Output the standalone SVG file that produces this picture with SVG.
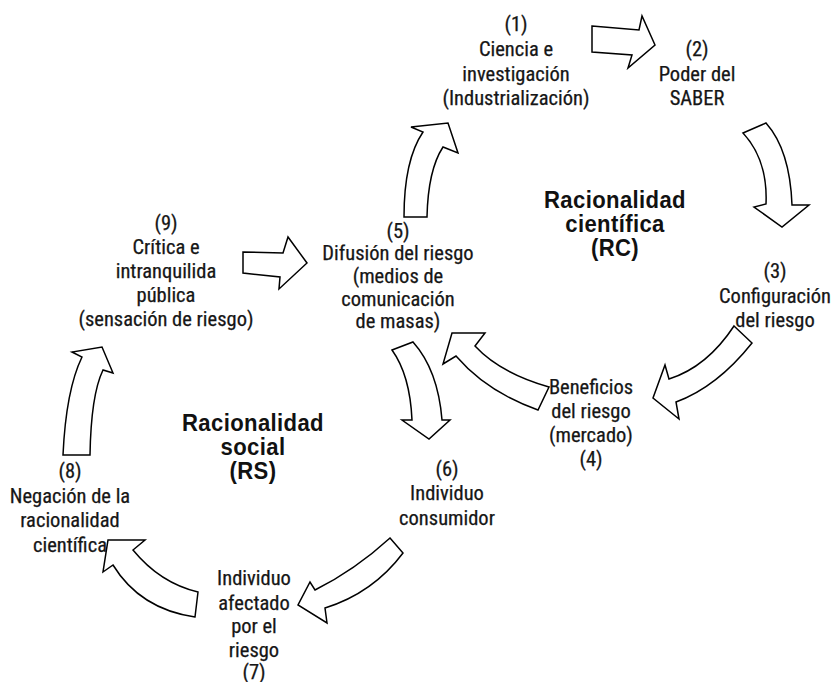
<svg xmlns="http://www.w3.org/2000/svg" width="838" height="682" viewBox="0 0 838 682">
  <style>
    .bg { fill: #ffffff; }
    .lbl { font-family: "Liberation Sans Narrow", "Roboto Condensed", "DejaVu Sans Condensed", sans-serif; font-size: 20.5px; fill: #161616; stroke: #161616; stroke-width: 0.25; text-anchor: middle; }
    .ttl { font-family: "Liberation Sans", Arial, sans-serif; font-size: 23px; font-weight: bold; letter-spacing: 0.4px; fill: #111111; text-anchor: middle; }
    .arw { fill: #ffffff; stroke: #000000; stroke-width: 1.5; stroke-linejoin: miter; }
  </style>
  <rect class="bg" x="0" y="0" width="838" height="682"/>

  <!-- block arrows linking the stages -->
  <g id="connectors">
    <!-- 1 -> 2 -->
    <path class="arw" d="M592,26 L639,30 L642,16 L655,45 L628,68 L632,55 L592,52 Z"/>
    <!-- 2 -> 3 -->
    <path class="arw" d="M743,133 L766,123 Q790,150 792,205 L809,205 L782,227 L754,207 L766,204 Q768,160 743,133 Z"/>
    <!-- 3 -> 4 -->
    <path class="arw" d="M734,326 L752,343 Q717,387 676,402 L679,419 L653,398 L665,365 L669,379 Q707,367 734,326 Z"/>
    <!-- 4 -> 5 -->
    <path class="arw" d="M452,333 L485,333 L475,346 Q500,373 549,387 L538,410 Q487,392 456,356 L443,364 Z"/>
    <!-- 5 -> 6 -->
    <path class="arw" d="M392,350 L413,342 Q438,370 442,420 L450,420 L429,439 L402,420 L412,420 Q410,375 392,350 Z"/>
    <!-- 5 -> 1 -->
    <path class="arw" d="M404,217 Q404,160 423,132 L411,127 L448,123 L458,153 L443,147 Q428,170 427,217 Z"/>
    <!-- 9 -> 5 -->
    <path class="arw" d="M243,252 L283,253 L288,237 L307,263 L279,289 L280,277 L243,273 Z"/>
    <!-- 8 -> 9 -->
    <path class="arw" d="M63,455 Q66,390 82,357 L72,352 L102,347 L113,373 L103,370 Q91,395 90,455 Z"/>
    <!-- 6 -> 7 -->
    <path class="arw" d="M390,538 L403,553 Q373,593 325,608 L327,623 L298,605 L310,582 L315,590 Q355,570 390,538 Z"/>
    <!-- 7 -> 8 -->
    <path class="arw" d="M198,592 L195,617 Q140,609 113,565 L103,572 L108,540 L145,540 L133,550 Q160,583 198,592 Z"/>
  </g>

  <g id="node1">
    <text class="lbl" x="516" y="31">(1)</text>
    <text class="lbl" x="516" y="56">Ciencia e</text>
    <text class="lbl" x="516" y="81">investigación</text>
    <text class="lbl" x="516" y="105">(Industrialización)</text>
  </g>
  <g id="node2">
    <text class="lbl" x="697" y="56">(2)</text>
    <text class="lbl" x="697" y="81">Poder del</text>
    <text class="lbl" x="697" y="105">SABER</text>
  </g>
  <g id="title-rc" transform="translate(615 0) scale(0.96 1)">
    <text class="ttl" x="0" y="208">Racionalidad</text>
    <text class="ttl" x="0" y="232">científica</text>
    <text class="ttl" x="0" y="256">(RC)</text>
  </g>
  <g id="node3">
    <text class="lbl" x="775" y="278">(3)</text>
    <text class="lbl" x="775" y="303">Configuración</text>
    <text class="lbl" x="775" y="327">del riesgo</text>
  </g>
  <g id="node4">
    <text class="lbl" x="591" y="394">Beneficios</text>
    <text class="lbl" x="591" y="418">del riesgo</text>
    <text class="lbl" x="591" y="442">(mercado)</text>
    <text class="lbl" x="591" y="466">(4)</text>
  </g>
  <g id="node5">
    <text class="lbl" x="398" y="238">(5)</text>
    <text class="lbl" x="398" y="260">Difusión del riesgo</text>
    <text class="lbl" x="398" y="283">(medios de</text>
    <text class="lbl" x="398" y="306">comunicación</text>
    <text class="lbl" x="398" y="328">de masas)</text>
  </g>
  <g id="node6">
    <text class="lbl" x="447" y="476">(6)</text>
    <text class="lbl" x="447" y="500">Individuo</text>
    <text class="lbl" x="447" y="525">consumidor</text>
  </g>
  <g id="node7">
    <text class="lbl" x="254" y="585">Individuo</text>
    <text class="lbl" x="254" y="610">afectado</text>
    <text class="lbl" x="254" y="633">por el</text>
    <text class="lbl" x="254" y="657">riesgo</text>
    <text class="lbl" x="254" y="679">(7)</text>
  </g>
  <g id="node8">
    <text class="lbl" x="70" y="478">(8)</text>
    <text class="lbl" x="70" y="503">Negación de la</text>
    <text class="lbl" x="70" y="527">racionalidad</text>
    <text class="lbl" x="70" y="552">científica</text>
  </g>
  <g id="node9">
    <text class="lbl" x="166" y="230">(9)</text>
    <text class="lbl" x="166" y="254">Crítica e</text>
    <text class="lbl" x="166" y="278">intranquilida</text>
    <text class="lbl" x="166" y="302">pública</text>
    <text class="lbl" x="166" y="326">(sensación de riesgo)</text>
  </g>
  <g id="title-rs" transform="translate(253 0) scale(0.96 1)">
    <text class="ttl" x="0" y="431">Racionalidad</text>
    <text class="ttl" x="0" y="455">social</text>
    <text class="ttl" x="0" y="479">(RS)</text>
  </g>
</svg>
